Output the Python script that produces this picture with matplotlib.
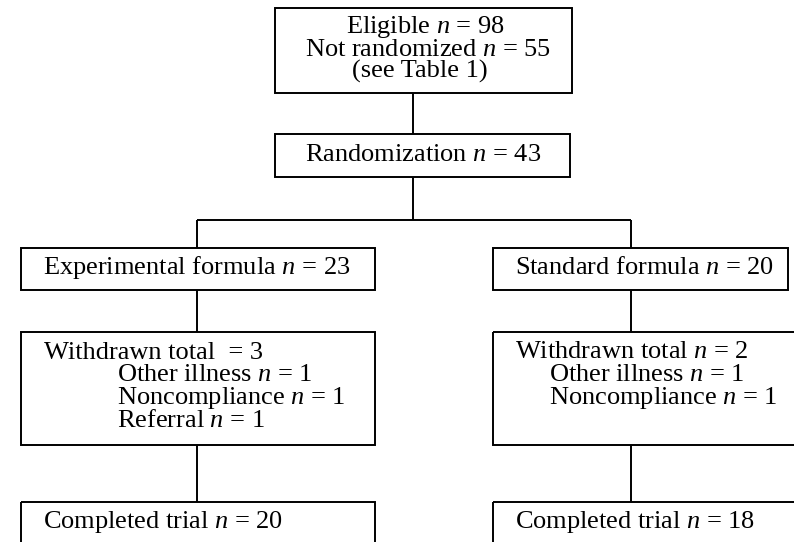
import matplotlib.pyplot as plt
from matplotlib.patches import Rectangle

plt.rcParams['font.family'] = ['Liberation Serif', 'DejaVu Serif']
plt.rcParams['mathtext.fontset'] = 'custom'
plt.rcParams['mathtext.rm'] = 'Liberation Serif'
plt.rcParams['mathtext.it'] = 'Liberation Serif:italic'

# counts in the flow
eligible = 98
not_randomized = 55
randomized = 43
arm_names = ['Experimental formula', 'Standard formula']
arm_n = [23, 20]
withdrawn_total = [3, 2]
withdrawn_reasons = [['Other illness', 'Noncompliance', 'Referral'],
                     ['Other illness', 'Noncompliance']]
withdrawn_counts = [[1, 1, 1], [1, 1]]
completed = [20, 18]

fig = plt.figure(figsize=(7.94, 5.42), dpi=100)
ax = fig.add_axes([0, 0, 1, 1])
ax.set_xlim(0, 794)
ax.set_ylim(542, 0)
ax.axis('off')

fs = 19
lw = 1.4

def box(x0, y0, x1, y1):
    ax.add_patch(Rectangle((x0, y0), x1 - x0, y1 - y0, fill=False,
                           edgecolor='black', lw=lw))

def line(xs, ys):
    ax.plot(xs, ys, color='black', lw=lw, solid_capstyle='butt')

def txt(x, y, s):
    ax.text(x, y, s, fontsize=fs, ha='left', va='baseline')

# top boxes
box(275, 8, 572, 93)
txt(346, 33, 'Eligible $n$ = %d' % eligible)
txt(305, 56, 'Not randomized $n$ = %d' % not_randomized)
txt(352, 78, '(see Table 1)')
line([413, 413], [93, 134])

box(275, 134, 570, 177)
txt(305, 161, 'Randomization $n$ = %d' % randomized)
line([413, 413], [177, 220])
line([197, 631], [220, 220])

# arms
arm_x = [(21, 375), (493, 788)]
wd_x = [(21, 375), (493, 800)]
cp_x = [(21, 375), (493, 800)]
centers = [197, 631]
for i in range(2):
    cx = centers[i]
    line([cx, cx], [220, 248])
    box(arm_x[i][0], 248, arm_x[i][1], 290)
    txt(arm_x[i][0] + 22, 274, '%s $n$ = %d' % (arm_names[i], arm_n[i]))
    line([cx, cx], [290, 332])
    box(wd_x[i][0], 332, wd_x[i][1], 445)
    if i == 0:
        txt(44, 359, 'Withdrawn total  = %d' % withdrawn_total[i])
        rx = 117
    else:
        txt(515, 358, 'Withdrawn total $n$ = %d' % withdrawn_total[i])
        rx = 549
    for j, (r, c) in enumerate(zip(withdrawn_reasons[i], withdrawn_counts[i])):
        txt(rx, 381 + 23 * j, '%s $n$ = %d' % (r, c))
    line([cx, cx], [445, 502])
    box(cp_x[i][0], 502, cp_x[i][1], 560)
    txt(cp_x[i][0] + 22, 528, 'Completed trial $n$ = %d' % completed[i])

fig.savefig('out.png', dpi=100, facecolor='white')
